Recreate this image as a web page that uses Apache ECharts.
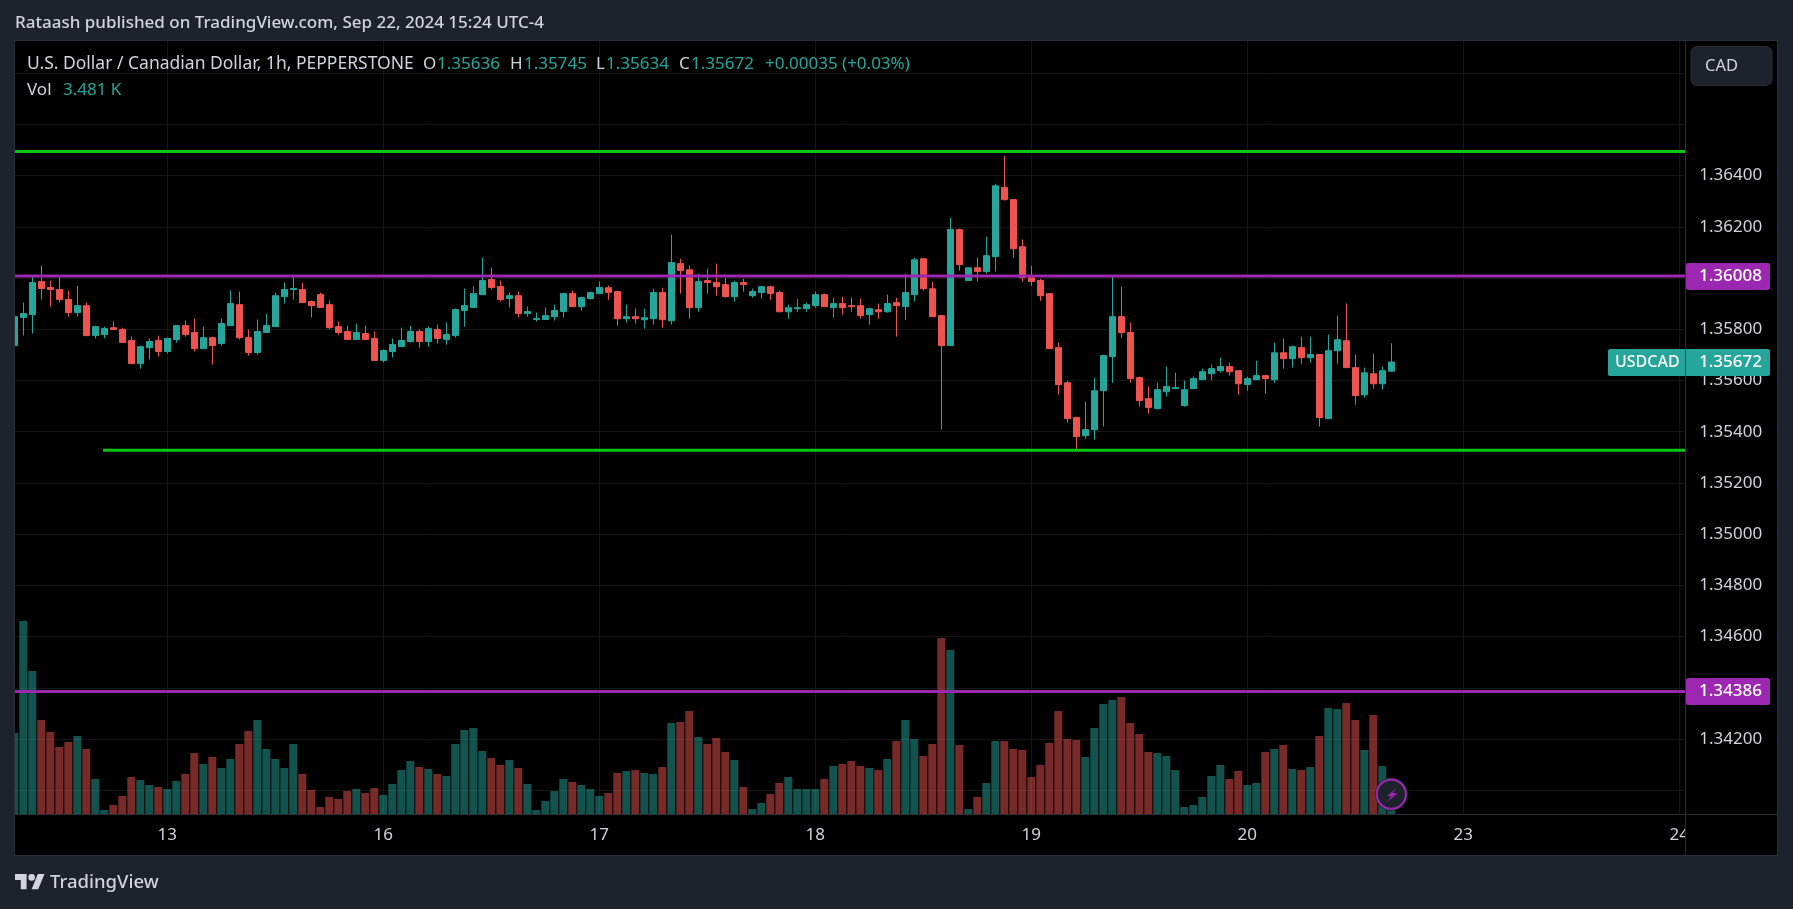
<!DOCTYPE html>
<html>
<head>
<meta charset="utf-8">
<title>USDCAD</title>
<script src="https://cdn.jsdelivr.net/npm/echarts@6/dist/echarts.min.js"></script>
<style>
  html, body { margin: 0; padding: 0; background: #1e222d; }
  #chart { width: 1793px; height: 909px; }
</style>
</head>
<body>
<div id="chart"></div>
<script>
// 1h candles, first one is Sep 12 07:00, 17 bars before the "13" tick
var opens = [
  1.35736,1.35846,1.35857,1.35986,1.35963,1.35955,1.35916,1.35865,1.35892,1.35775,1.35779,1.35806,1.35799,1.35756,1.35666,1.35728,1.35756,
  1.35713,1.35760,1.35814,1.35787,1.35724,1.35767,1.35744,1.35814,1.35896,1.35767,1.35709,1.35787,1.35810,1.35927,1.35955,1.35955,1.35908,1.35935,1.35896,1.35810,1.35791,1.35760,1.35783,1.35764,
  1.35678,1.35713,1.35732,1.35752,1.35791,1.35752,1.35799,1.35760,1.35775,1.35873,1.35885,1.35935,1.35994,1.35967,1.35920,1.35931,1.35861,1.35838,1.35838,1.35849,1.35869,1.35939,1.35888,1.35920,
  1.35939,1.35962,1.35947,1.35841,1.35849,1.35837,1.35841,1.35943,1.35833,1.36056,1.36032,1.35884,1.35990,1.35982,1.35974,1.35927,1.35982,1.35931,1.35943,1.35966,1.35943,1.35868,1.35880,1.35880,
  1.35892,1.35935,1.35884,1.35900,1.35892,1.35892,1.35857,1.35876,1.35868,1.35904,1.35888,1.35935,1.36075,1.35958,1.35853,1.35736,1.36189,1.35990,1.36040,1.36025,1.36083,1.36353,1.36306,1.36122,
  1.36001,1.35990,1.35939,1.35728,1.35591,1.35455,1.35384,1.35408,1.35560,1.35693,1.35849,1.35787,1.35611,1.35529,1.35490,1.35556,1.35568,1.35502,1.35568,1.35603,1.35626,1.35638,1.35654,1.35638,
  1.35584,1.35603,1.35619,1.35603,1.35708,1.35685,1.35728,1.35689,1.35701,1.35451,1.35716,1.35755,1.35650,1.35544,1.35626,1.35587,1.35636
];
var highs = [
  1.35853,1.35904,1.36009,1.36048,1.35990,1.36006,1.35951,1.35970,1.35904,1.35814,1.35810,1.35830,1.35806,1.35771,1.35736,1.35764,1.35775,
  1.35767,1.35814,1.35834,1.35842,1.35810,1.35771,1.35842,1.35951,1.35947,1.35799,1.35838,1.35861,1.35943,1.35982,1.36006,1.35982,1.35912,1.35943,1.35912,1.35830,1.35814,1.35822,1.35814,1.35791,
  1.35721,1.35764,1.35806,1.35814,1.35799,1.35810,1.35818,1.35826,1.35881,1.35959,1.35967,1.36080,1.36041,1.35990,1.35943,1.35947,1.35888,1.35865,1.35885,1.35896,1.35939,1.35951,1.35927,1.35947,
  1.35986,1.35970,1.35947,1.35896,1.35880,1.35880,1.35958,1.35962,1.36169,1.36075,1.36048,1.36017,1.36036,1.36056,1.36001,1.35990,1.35997,1.35958,1.35970,1.35970,1.35951,1.35896,1.35919,1.35904,
  1.35947,1.35939,1.35923,1.35927,1.35923,1.35919,1.35884,1.35900,1.35935,1.35923,1.36017,1.36079,1.36079,1.35986,1.35853,1.36235,1.36193,1.36040,1.36079,1.36161,1.36368,1.36477,1.36306,1.36150,
  1.36048,1.35997,1.35939,1.35748,1.35599,1.35459,1.35517,1.35611,1.35701,1.36009,1.35966,1.35826,1.35615,1.35576,1.35591,1.35654,1.35630,1.35599,1.35615,1.35646,1.35662,1.35689,1.35669,1.35638,
  1.35615,1.35677,1.35619,1.35748,1.35763,1.35736,1.35771,1.35771,1.35701,1.35779,1.35853,1.35900,1.35701,1.35650,1.35705,1.35654,1.35745
];
var lows = [
  1.35731,1.35775,1.35783,1.35916,1.35888,1.35904,1.35849,1.35849,1.35775,1.35764,1.35764,1.35799,1.35748,1.35666,1.35646,1.35682,1.35693,
  1.35705,1.35748,1.35771,1.35713,1.35724,1.35662,1.35736,1.35814,1.35760,1.35697,1.35701,1.35787,1.35810,1.35900,1.35916,1.35904,1.35846,1.35885,1.35799,1.35779,1.35760,1.35760,1.35760,1.35678,
  1.35670,1.35689,1.35732,1.35748,1.35728,1.35732,1.35744,1.35740,1.35767,1.35810,1.35881,1.35935,1.35955,1.35908,1.35885,1.35846,1.35849,1.35830,1.35838,1.35834,1.35846,1.35888,1.35873,1.35916,
  1.35939,1.35915,1.35814,1.35826,1.35822,1.35802,1.35818,1.35806,1.35818,1.35939,1.35841,1.35868,1.35939,1.35931,1.35923,1.35908,1.35947,1.35923,1.35919,1.35915,1.35868,1.35841,1.35868,1.35868,
  1.35884,1.35888,1.35845,1.35857,1.35868,1.35841,1.35818,1.35841,1.35865,1.35771,1.35837,1.35908,1.35951,1.35849,1.35408,1.35736,1.36029,1.35990,1.35986,1.36017,1.36025,1.36302,1.36079,1.35986,
  1.35970,1.35911,1.35724,1.35544,1.35435,1.35322,1.35373,1.35369,1.35420,1.35591,1.35767,1.35591,1.35498,1.35470,1.35486,1.35537,1.35568,1.35498,1.35568,1.35603,1.35599,1.35630,1.35619,1.35544,
  1.35560,1.35603,1.35548,1.35591,1.35646,1.35650,1.35665,1.35669,1.35420,1.35451,1.35665,1.35650,1.35505,1.35533,1.35568,1.35564,1.35634
];
var closes = [
  1.35849,1.35861,1.35982,1.35959,1.35955,1.35916,1.35865,1.35892,1.35775,1.35810,1.35803,1.35799,1.35748,1.35666,1.35732,1.35752,1.35713,
  1.35764,1.35814,1.35779,1.35724,1.35767,1.35736,1.35822,1.35900,1.35767,1.35709,1.35791,1.35814,1.35931,1.35955,1.35959,1.35904,1.35892,1.35885,1.35806,1.35787,1.35760,1.35787,1.35760,1.35678,
  1.35717,1.35740,1.35756,1.35791,1.35752,1.35803,1.35764,1.35779,1.35877,1.35892,1.35939,1.35990,1.35963,1.35916,1.35931,1.35861,1.35869,1.35842,1.35853,1.35873,1.35939,1.35888,1.35924,1.35943,
  1.35963,1.35943,1.35841,1.35849,1.35841,1.35845,1.35943,1.35837,1.36060,1.36029,1.35884,1.35986,1.35982,1.35966,1.35927,1.35982,1.35974,1.35947,1.35966,1.35939,1.35868,1.35884,1.35884,1.35896,
  1.35935,1.35888,1.35900,1.35884,1.35888,1.35853,1.35880,1.35868,1.35900,1.35892,1.35943,1.36071,1.35958,1.35849,1.35736,1.36189,1.36052,1.36040,1.36025,1.36087,1.36360,1.36306,1.36114,1.36001,
  1.35986,1.35931,1.35724,1.35584,1.35451,1.35381,1.35408,1.35560,1.35697,1.35849,1.35787,1.35607,1.35521,1.35494,1.35564,1.35576,1.35572,1.35564,1.35607,1.35634,1.35646,1.35654,1.35634,1.35587,
  1.35607,1.35619,1.35607,1.35708,1.35685,1.35732,1.35689,1.35701,1.35455,1.35716,1.35759,1.35650,1.35541,1.35630,1.35587,1.35638,1.35672
];
// volume in thousands
var volumes = [
  8.1,19.3,14.3,9.4,8.2,6.7,7.2,7.8,6.5,3.5,0.4,0.9,1.8,3.7,3.4,2.9,2.7,
  2.5,3.3,4.0,6.1,5.0,5.7,4.6,5.5,7.0,8.3,9.4,6.5,5.5,4.6,7.0,4.0,2.4,0.7,1.7,1.5,2.3,2.5,2.1,2.6,
  1.9,3.0,4.4,5.3,4.7,4.5,4.0,3.8,7.0,8.4,8.6,6.3,5.6,4.9,5.4,4.6,3.0,0.4,1.3,2.3,3.5,3.2,2.9,2.5,
  1.8,2.1,4.1,4.3,4.4,4.1,4.0,4.7,9.1,9.2,10.3,7.7,7.0,7.6,6.2,5.4,2.7,0.5,1.1,2.0,3.1,3.7,2.5,2.5,
  2.5,3.5,4.8,5.0,5.3,4.8,4.6,4.4,5.5,7.3,9.4,7.5,5.8,7.0,17.6,16.4,6.9,0.5,1.7,3.1,7.3,7.3,6.5,6.4,
  3.7,4.9,7.1,10.3,7.5,7.4,5.7,8.6,11.0,11.4,11.7,9.1,8.0,6.2,6.1,5.8,4.4,0.7,0.9,1.7,3.8,4.9,3.5,4.3,
  2.9,3.1,6.2,6.5,6.9,4.5,4.4,4.7,7.8,10.6,10.5,11.1,9.4,6.4,9.9,4.8,3.481
];

var dayLabels = ['13', '16', '17', '18', '19', '20', '23', '24'];
var barsBeforeFirstDay = 17;
var barsPerDay = 24;

var priceTicks = [1.340, 1.342, 1.344, 1.346, 1.348, 1.350, 1.352, 1.354, 1.356, 1.358, 1.360, 1.362, 1.364, 1.366, 1.368];
var priceLabels = [1.340, 1.342, 1.346, 1.348, 1.350, 1.352, 1.354, 1.356, 1.358, 1.362, 1.364, 1.366];

// drawn levels: price, first bar, last bar (in bar units, can be fractional)
var greenHigh = [1.36494, 0.08, 185.65];
var greenLow = [1.35327, 9.86, 185.65];
var purpleUpper = [1.36008, 0.08, 185.65];
var purpleLower = [1.34386, 0.08, 185.65];

var UP = '#26a69a', DOWN = '#ef5350', GREEN = '#0ac714', PURPLE = '#9c27b0';
var TEXT = '#d1d4dc', OUTER = '#1e222d', BORDER = '#2a2e39', GRID = '#161616';
var FONT = '"Noto Sans", sans-serif';

var categories = [];
for (var d = 0; d < dayLabels.length; d++) {
  for (var h = 0; h < barsPerDay; h++) {
    if (d == 0 && h == 0) {
      for (var b = 0; b < barsBeforeFirstDay; b++) categories.push('');
    }
    if (d == dayLabels.length - 1 && h > 0) break;
    categories.push(h == 0 ? dayLabels[d] : '');
  }
}

var candleData = opens.map(function (o, i) {
  return [o, closes[i], lows[i], highs[i]];
});
var volumeData = volumes.map(function (v, i) {
  return {
    value: v,
    itemStyle: { color: closes[i] >= opens[i] ? 'rgba(38,166,154,0.5)' : 'rgba(239,83,80,0.5)' }
  };
});

function levelSeries(level, color) {
  return {
    type: 'line',
    xAxisIndex: 1,
    yAxisIndex: 0,
    data: [[level[1], level[0]], [level[2], level[0]]],
    showSymbol: false,
    symbol: 'none',
    clip: false,
    silent: true,
    z: 5,
    lineStyle: { color: color, width: 3 }
  };
}

function label(text, x, y, color, size, weight) {
  return {
    type: 'text',
    z: 60,
    silent: true,
    style: {
      text: text, x: x, y: y, fill: color,
      font: (weight || 400) + ' ' + size + 'px ' + FONT,
      verticalAlign: 'middle'
    }
  };
}

function tag(x, y, w, h, color) {
  return {
    type: 'rect', z: 50, silent: true,
    shape: { x: x, y: y, width: w, height: h, r: 2 },
    style: { fill: color }
  };
}

var graphics = [
  // panel and frame
  { type: 'rect', z: -10, silent: true, shape: { x: 15, y: 41, width: 1763, height: 814 }, style: { fill: '#000' } },
  { type: 'rect', z: 40, silent: true, shape: { x: 0, y: 41, width: 14.5, height: 815 }, style: { fill: OUTER } },
  { type: 'rect', z: 40, silent: true, shape: { x: 1686, y: 815, width: 91, height: 40 }, style: { fill: '#000' } },
  { type: 'rect', z: 41, silent: true, shape: { x: 14.5, y: 40.5, width: 1763, height: 815 }, style: { fill: 'none', stroke: BORDER, lineWidth: 1 } },
  { type: 'line', z: 41, silent: true, shape: { x1: 15, y1: 814.5, x2: 1777, y2: 814.5 }, style: { stroke: BORDER, lineWidth: 1 } },
  { type: 'line', z: 41, silent: true, shape: { x1: 1685.5, y1: 41, x2: 1685.5, y2: 855 }, style: { stroke: BORDER, lineWidth: 1 } },

  // header and legend
  label('Rataash published on TradingView.com, Sep 22, 2024 15:24 UTC-4', 15, 23, TEXT, 17, 500),
  label('U.S. Dollar / Canadian Dollar, 1h, PEPPERSTONE', 27, 64, TEXT, 17.5),
  label('O', 423, 64, TEXT, 17), label('1.35636', 437, 64, UP, 17),
  label('H', 510, 64, TEXT, 17), label('1.35745', 524, 64, UP, 17),
  label('L', 596, 64, TEXT, 17), label('1.35634', 606, 64, UP, 17),
  label('C', 679, 64, TEXT, 17), label('1.35672', 691, 64, UP, 17),
  label('+0.00035 (+0.03%)', 765, 64, UP, 17),
  label('Vol', 27, 90, TEXT, 17), label('3.481 K', 63, 90, UP, 17),

  // price axis extras
  { type: 'rect', z: 50, silent: true, shape: { x: 1691, y: 46.5, width: 81, height: 39, r: 6 }, style: { fill: OUTER, stroke: BORDER, lineWidth: 1 } },
  label('CAD', 1705, 66, TEXT, 16.5),
  tag(1686, 263, 84, 27, PURPLE), label('1.36008', 1699, 276.5, '#fff', 17, 500),
  tag(1686, 678, 84, 27, PURPLE), label('1.34386', 1699, 691.5, '#fff', 17, 500),
  tag(1608, 349, 162, 27, UP), label('USDCAD', 1615, 362.5, '#fff', 16, 500), label('1.35672', 1699, 362.5, '#fff', 17, 500),
  { type: 'line', z: 51, silent: true, shape: { x1: 1685.5, y1: 349, x2: 1685.5, y2: 376 }, style: { stroke: '#13534d', lineWidth: 1 } },

  // publish badge
  { type: 'circle', z: 30, silent: true, shape: { cx: 1391.3, cy: 794.3, r: 16.5 }, style: { fill: '#2a2e39' } },
  { type: 'circle', z: 31, silent: true, shape: { cx: 1391.3, cy: 794.3, r: 14.5 }, style: { fill: OUTER, stroke: PURPLE, lineWidth: 2 } },
  { type: 'polygon', z: 32, silent: true, shape: { points: [[1397.5, 787], [1387, 796], [1391.5, 796.5], [1386, 802.5], [1397.5, 793.5], [1392.5, 793]] }, style: { fill: PURPLE } },

  // logo
  { type: 'polygon', z: 60, silent: true, shape: { points: [[15, 874], [26.6, 874], [26.6, 889.3], [20.8, 889.3], [20.8, 880], [15, 880]] }, style: { fill: TEXT } },
  { type: 'polygon', z: 60, silent: true, shape: { points: [[31.6, 889.3], [37.8, 874], [44.5, 874], [38.2, 889.3]] }, style: { fill: TEXT } },
  { type: 'circle', z: 60, silent: true, shape: { cx: 31.6, cy: 877.4, r: 3.3 }, style: { fill: TEXT } },
  label('TradingView', 50, 883, TEXT, 18.5, 500)
];

var chart = echarts.init(document.getElementById('chart'));
chart.setOption({
  backgroundColor: OUTER,
  animation: false,
  grid: { left: 9.8, top: 41, width: 1674, height: 773 },
  xAxis: [{
    type: 'category',
    data: categories,
    boundaryGap: true,
    axisLine: { show: false },
    axisTick: { show: false },
    axisLabel: {
      color: TEXT, fontFamily: FONT, fontSize: 17, margin: 13,
      hideOverlap: false,
      interval: function (i, v) { return v !== ''; }
    },
    splitLine: {
      show: true,
      alignWithLabel: true,
      interval: function (i, v) { return v !== ''; },
      lineStyle: { color: GRID, width: 1 }
    }
  }, {
    // same bars as the category axis, for the level lines
    type: 'value',
    min: -0.5,
    max: 185.5,
    show: false,
    splitLine: { show: false }
  }],
  yAxis: [{
    type: 'value',
    position: 'right',
    min: 1.339074,
    max: 1.369252,
    axisLine: { show: false },
    axisTick: { show: false, customValues: priceTicks },
    axisLabel: {
      color: TEXT, fontFamily: FONT, fontSize: 17, margin: 15.5,
      showMinLabel: false, showMaxLabel: false,
      customValues: priceLabels,
      formatter: function (v) { return v.toFixed(5); }
    },
    splitLine: { show: true, lineStyle: { color: GRID, width: 1 } }
  }, {
    type: 'value',
    min: 0,
    max: 77.3,
    show: false,
    splitLine: { show: false }
  }],
  series: [{
    name: 'Vol',
    type: 'bar',
    xAxisIndex: 0,
    yAxisIndex: 1,
    barWidth: 8,
    data: volumeData,
    z: 2,
    silent: true
  }, {
    name: 'USDCAD',
    type: 'candlestick',
    xAxisIndex: 0,
    yAxisIndex: 0,
    barWidth: 6,
    data: candleData,
    z: 3,
    silent: true,
    itemStyle: {
      color: UP, color0: DOWN,
      borderColor: UP, borderColor0: DOWN,
      borderColorDoji: UP,
      borderWidth: 1
    }
  },
  levelSeries(greenHigh, GREEN),
  levelSeries(greenLow, GREEN),
  levelSeries(purpleUpper, PURPLE),
  levelSeries(purpleLower, PURPLE)],
  graphic: { elements: graphics }
});
</script>
</body>
</html>
